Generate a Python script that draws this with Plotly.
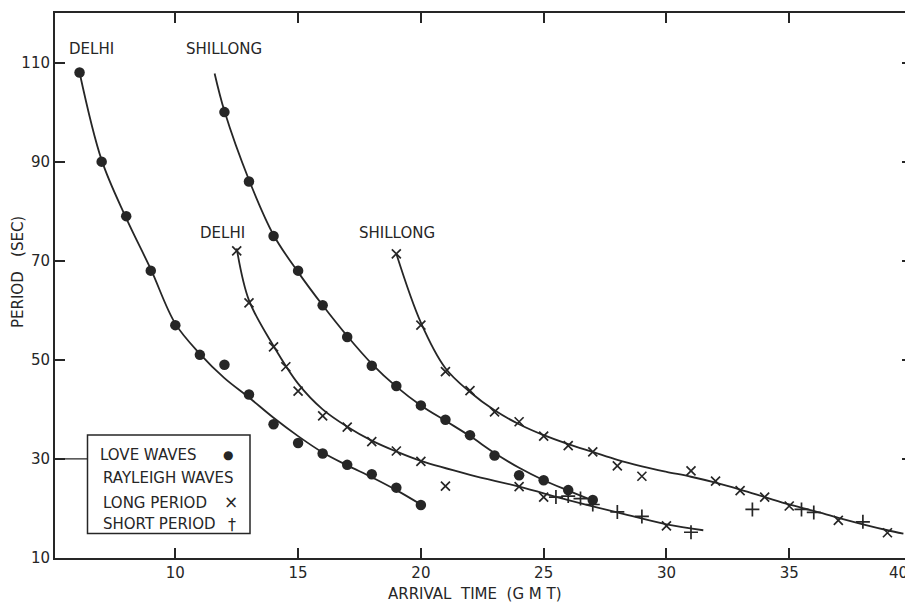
import plotly.graph_objects as go

# ---- data (arrival time in GMT minutes past hour, period in sec) ----
love_delhi_t = [6.1, 7, 8, 9, 10, 11, 12, 13, 14, 15, 16, 17, 18, 19, 20]
love_delhi_p = [108, 90, 79, 68, 57, 51, 49, 43, 37, 33.2, 31.1, 28.8, 26.9, 24.2, 20.7]

love_shil_t = [12, 13, 14, 15, 16, 17, 18, 19, 20, 21, 22, 23, 24, 25, 26, 27]
love_shil_p = [100, 86, 75, 68, 61, 54.6, 48.8, 44.7, 40.8, 37.9, 34.8, 30.7, 26.7, 25.7, 23.7, 21.7]

ray_long_delhi_t = [12.5, 13, 14, 14.5, 15, 16, 17, 18, 19, 20, 21, 24, 25, 30]
ray_long_delhi_p = [72, 61.5, 52.6, 48.6, 43.7, 38.7, 36.4, 33.5, 31.6, 29.5, 24.5, 24.4, 22.3, 16.5]

ray_short_delhi_t = [25.5, 26, 26.5, 27, 28, 29, 31]
ray_short_delhi_p = [22.3, 22.5, 22.0, 20.8, 19.3, 18.4, 15.2]

ray_long_shil_t = [19, 20, 21, 22, 23, 24, 25, 26, 27, 28, 29, 31, 32, 33, 34, 35, 37, 39]
ray_long_shil_p = [71.4, 57, 47.6, 43.8, 39.5, 37.5, 34.6, 32.7, 31.4, 28.6, 26.5, 27.6, 25.5, 23.6, 22.3, 20.5, 17.6, 15.1]

ray_short_shil_t = [33.5, 35.5, 36, 38]
ray_short_shil_p = [19.8, 19.8, 19.2, 17.3]

# fitted curves (hand-drawn in original)
curve_love_delhi_t = [6.1, 7, 8, 9, 10, 11, 12, 13, 14, 15, 16, 17, 18, 19, 20]
curve_love_delhi_p = [108, 90.3, 78.6, 68.3, 57.3, 51.2, 46.3, 42.4, 38.3, 34.6, 31.3, 28.7, 26.3, 23.7, 20.8]

curve_love_shil_t = [11.6, 12, 13, 14, 15, 16, 17, 18, 19, 20, 21, 22, 23, 24, 25, 26, 27.1]
curve_love_shil_p = [107.8, 100.2, 86.3, 75.2, 67.7, 61, 54.8, 49.2, 44.6, 40.8, 37.7, 34.6, 31.2, 28.2, 25.7, 23.6, 21.4]

curve_ray_delhi_t = [12.5, 13, 14, 15, 16, 17, 18, 19, 20, 22, 24, 26, 28, 30, 31.5]
curve_ray_delhi_p = [72.5, 62, 52.8, 45.2, 40, 36.5, 33.7, 31.5, 29.6, 26.8, 24.4, 21.7, 19.2, 16.8, 15.6]

curve_ray_shil_t = [19, 20, 21, 22, 23, 24, 25, 26, 27, 28, 29, 30, 31, 32, 33, 34, 35, 36, 37, 38, 39, 39.65]
curve_ray_shil_p = [71.4, 57.5, 48.3, 43.5, 39.8, 37, 34.8, 33, 31.4, 29.8, 28.5, 27.4, 26.4, 25.2, 23.8, 22.3, 20.8, 19.5, 18.1, 16.8, 15.6, 14.9]

x_ticks = [10, 15, 20, 25, 30, 35, 40]
# the last label sits on the page edge; it is drawn separately, right-aligned
x_tick_labels = ["10", "15", "20", "25", "30", "35", ""]
x_edge_label = "40"
y_ticks = [10, 30, 50, 70, 90, 110]

INK = "#262626"
FONT = "DejaVu Sans"

fig = go.Figure()

for cx, cy in [(curve_love_delhi_t, curve_love_delhi_p), (curve_love_shil_t, curve_love_shil_p),
               (curve_ray_delhi_t, curve_ray_delhi_p), (curve_ray_shil_t, curve_ray_shil_p)]:
    fig.add_trace(go.Scatter(x=cx, y=cy, mode="lines", line=dict(color=INK, width=1.8, shape="spline"),
                             hoverinfo="skip", showlegend=False))

for tx, ty in [(love_delhi_t, love_delhi_p), (love_shil_t, love_shil_p)]:
    fig.add_trace(go.Scatter(x=tx, y=ty, mode="markers", showlegend=False,
                             marker=dict(symbol="circle", size=10.5, color=INK)))

for tx, ty in [(ray_long_delhi_t, ray_long_delhi_p), (ray_long_shil_t, ray_long_shil_p)]:
    fig.add_trace(go.Scatter(x=tx, y=ty, mode="markers", showlegend=False,
                             marker=dict(symbol="x-thin", size=9, color=INK, line=dict(color=INK, width=1.7))))

for tx, ty in [(ray_short_delhi_t, ray_short_delhi_p), (ray_short_shil_t, ray_short_shil_p)]:
    fig.add_trace(go.Scatter(x=tx, y=ty, mode="markers", showlegend=False,
                             marker=dict(symbol="cross-thin", size=10, color=INK, line=dict(color=INK, width=1.7))))

axis_common = dict(showline=True, linecolor=INK, linewidth=2, mirror="ticks", ticks="inside",
                   ticklen=10, tickwidth=1.5, tickcolor=INK, showgrid=False, zeroline=False,
                   automargin=False, ticklabeloverflow="allow",
                   tickfont=dict(family=FONT, size=15, color=INK))

fig.update_xaxes(range=[5.1, 40], tickvals=x_ticks, ticktext=x_tick_labels, **axis_common)
fig.update_yaxes(range=[10, 120], tickvals=y_ticks, **axis_common)

# the page places the figure 8 px in from the top-left corner
OFF = 8
W, H = 905, 600
ML, MR, MT, MB = 47, 1, 5, 50
pw, ph = W - ML - MR, H - MT - MB
left_px, bottom_px = OFF + ML, OFF + H - MB


def px(xp):
    return (xp - left_px) / pw


def py(yp):
    return (bottom_px - yp) / ph


annos = []


def txt(t, xp, yp, size=15, anchor="center", angle=0):
    annos.append(dict(text=t, x=px(xp), y=py(yp), xref="paper", yref="paper", showarrow=False,
                      xanchor=anchor, yanchor="middle", textangle=angle,
                      font=dict(family=FONT, size=size, color=INK)))


txt("DELHI", 91.5, 49)
txt("SHILLONG", 224, 49)
txt("DELHI", 222, 233)
txt("SHILLONG", 397, 233)
txt("ARRIVAL  TIME  (G M T)", 475, 594)
txt("PERIOD   (SEC)", 18, 272, angle=-90)
txt(x_edge_label, 910, 573, anchor="right")

# legend block
txt("LOVE WAVES", 98, 455, anchor="left")
txt("RAYLEIGH WAVES", 101, 478, anchor="left")
txt("LONG PERIOD", 101, 503, anchor="left")
txt("SHORT PERIOD", 101, 524, anchor="left")
txt("●", 228, 455, size=12)
txt("×", 231, 502, size=17)
txt("†", 232, 524, size=16)

fig.update_layout(
    width=W, height=H, margin=dict(l=ML, r=MR, t=MT, b=MB),
    paper_bgcolor="white", plot_bgcolor="white", showlegend=False,
    annotations=annos,
    shapes=[
        dict(type="rect", xref="paper", yref="paper", x0=px(87.5), x1=px(250), y0=py(533.5), y1=py(435),
             line=dict(color=INK, width=1.5), fillcolor="white"),
        dict(type="line", xref="paper", yref="y", x0=0, x1=px(87.5), y0=30, y1=30,
             line=dict(color=INK, width=1.3)),
    ],
)

fig.write_html("out.html")
